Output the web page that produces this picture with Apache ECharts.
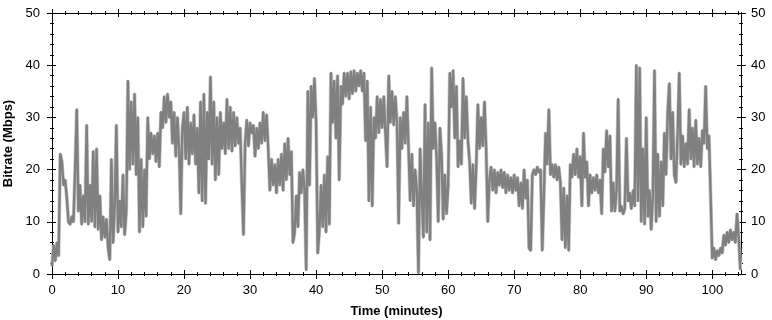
<!DOCTYPE html>
<html><head><meta charset="utf-8">
<script src="https://cdn.jsdelivr.net/npm/echarts@6/dist/echarts.min.js"></script>
<style>html,body{margin:0;padding:0;background:#fff}#c{width:772px;height:320px}</style>
</head><body><div id="c"></div>
<script>
// Sampling step of the bitrate trace (minutes between consecutive values)
const STEP = 0.25;
const X_MAX = 104.35;
// Bitrate (Mbps), one array per 10-minute block
const rate00 = [1.5,5.5,2.5,6,3.5, 23,21.5,17,18,14.5, 10,9.5,11,10,20, 31.5,12,17,9.5,15, 10,28.5,9.5,17,10, 23.5,9,24,8.5,15, 6.5,11,7,10.5,5, 2.7,22,6,13,28.5];
const rate10 = [8,14,9,19,7.5, 12,37,20,33,21, 34.5,19,30,8,22, 9,20,11,30,22, 27,23,26.5,21.5,27, 20.5,31,28,34,29, 34.5,30,33,25,31, 22.5,30,24,11.5,28];
const rate20 = [31,22,32,21,29, 23,30.5,21,28,15.5, 33,14,34.5,13.5,31, 22,37.8,21,33,18, 30,19,31,24,29, 23,33.5,24,32,23.5, 31,24.5,30,25,28, 17,7.5,25,29.5,24.5];
const rate30 = [29,27,28.5,22.5,28, 24,29,25,31,25.5, 30.5,24,16,22,17, 21,15.5,22,17,23, 16,25,18,26,19, 23.5,6,8,15,9, 19.5,15.5,20,16,0.8, 35,17,36,30,37.5];
const rate40 = [29,4,8.5,17,9, 19,8,22.5,9.5,38.5, 29,37,26,38,18, 36,32.5,38.5,34,38.5, 33.5,38.8,34.5,39,35, 38.5,36,39,35,38.5, 25.5,37,14,32,13, 30,26,34,27,33.5];
const rate50 = [28,34,27,20.5,38, 29,35,28.5,34,29, 9.7,30,24,31,25, 34,24,14,23,13, 20,16,0.2,24,15, 7,32.5,8,29,6.5, 39.5,24,29,22,10, 28,23,10.5,19,11.5];
const rate60 = [17,38.5,32,39,26, 36,20.5,25.5,21,37.5, 26,34,25.5,21.5,13.5, 21,12.5,20.5,32.5,24, 30,24.5,33,24,10, 18,20.5,16,20,15.5, 19.5,17,20,16.5,19.5, 15.5,19,16,18.5,15.5];
const rate70 = [19,16,18.5,13,17.5, 12.5,20,14.5,18,5, 4.5,19,20,19,20.5, 19.5,20,4.5,15,27, 21,31.5,19,21,18.5, 21,18,20.5,17.5,6.5, 16.5,5,15,4.5,21, 18.5,23,19,24,18.5];
const rate80 = [22.5,13,27,18.5,21.5, 13,19,15.5,18.5,16, 19,15.5,18,11.5,24, 19.5,27.5,20.5,26.5,12, 17.5,12,16,33.5,12, 13,11.5,12.5,26,14, 15.5,12.5,16,13,40, 14,39.5,10,24,9.5];
const rate90 = [30,11,16,8.5,15, 39,10,23,11,21.5, 13,27,19,31,36.5, 22,31,19,17.5,27, 38.5,21,26.5,20.5,25, 21,31.5,22,28,20.5, 29.5,21,26,20.5,27.5, 25,36,24,26.5,15];
const rate100 = [3,5,2.7,4.5,3.5, 5,4,7.5,5.5,8, 6,8.5,6.5,8,6, 11.5,7,0.8];

// Tick positions / labels
const xMajorTicks = [0,10,20,30,40,50,60,70,80,90,100];
const xMinorTicks = [2,4,6,8,12,14,16,18,22,24,26,28,32,34,36,38,42,44,46,48,52,54,56,58,62,64,66,68,72,74,76,78,82,84,86,88,92,94,96,98,102,104];
const yMajorTicks = [0,10,20,30,40,50];
const yMinorTicks = [2,4,6,8,12,14,16,18,22,24,26,28,32,34,36,38,42,44,46,48];

const allRates = [].concat(rate00, rate10, rate20, rate30, rate40, rate50, rate60, rate70, rate80, rate90, rate100);
const data = allRates.map((v, i) => [+(i * STEP).toFixed(2), v]);

const FONT = 'Liberation Sans, Arial, sans-serif';
function mkAxis(type, pos, inside, ticks, len, labelTicks, extra) {
  const isX = type === 'x';
  const ax = {
    type: 'value', position: pos,
    min: 0, max: isX ? X_MAX : 50,
    axisLine: { show: true, onZero: false, lineStyle: { color: '#000', width: 1 } },
    axisTick: { show: true, inside: inside, length: len, customValues: ticks, lineStyle: { color: '#000', width: 1 } },
    axisLabel: labelTicks ? { show: true, customValues: labelTicks, color: '#000', fontFamily: FONT, fontSize: 13, margin: isX ? 10 : (pos === 'left' ? 12 : 10) } : { show: false },
    splitLine: { show: false }, minorTick: { show: false }
  };
  return Object.assign(ax, extra || {});
}

const xAxes = [
  mkAxis('x', 'bottom', false, xMajorTicks, 5, xMajorTicks, {
    name: 'Time (minutes)', nameLocation: 'middle', nameGap: 31,
    nameTextStyle: { color: '#000', fontFamily: FONT, fontSize: 13, fontWeight: 'bold' }
  }),
  mkAxis('x', 'bottom', true, xMajorTicks, 4),
  mkAxis('x', 'bottom', false, xMinorTicks, 2),
  mkAxis('x', 'bottom', true, xMinorTicks, 2),
  mkAxis('x', 'top', false, xMajorTicks, 4),
  mkAxis('x', 'top', true, xMajorTicks, 4),
  mkAxis('x', 'top', false, xMinorTicks, 2),
  mkAxis('x', 'top', true, xMinorTicks, 2)
];
const yAxes = [
  mkAxis('y', 'left', false, yMajorTicks, 5, yMajorTicks, {
    name: 'Bitrate (Mbps)', nameLocation: 'middle', nameGap: 36,
    nameTextStyle: { color: '#000', fontFamily: FONT, fontSize: 13, fontWeight: 'bold' }
  }),
  mkAxis('y', 'left', true, yMajorTicks, 4),
  mkAxis('y', 'left', false, yMinorTicks, 2),
  mkAxis('y', 'left', true, yMinorTicks, 2),
  mkAxis('y', 'right', false, yMajorTicks, 5, yMajorTicks),
  mkAxis('y', 'right', true, yMajorTicks, 4),
  mkAxis('y', 'right', false, yMinorTicks, 2),
  mkAxis('y', 'right', true, yMinorTicks, 2)
];

const chart = echarts.init(document.getElementById('c'), null, { renderer: 'canvas' });
chart.setOption({
  animation: false,
  backgroundColor: '#fff',
  grid: { left: 52, right: 31, top: 13, bottom: 46, containLabel: false, outerBoundsMode: 'none' },
  xAxis: xAxes,
  yAxis: yAxes,
  series: [
    { type: 'line', data: data, showSymbol: false, silent: true, xAxisIndex: 0, yAxisIndex: 0,
      lineStyle: { color: '#cacaca', width: 3.8 }, z: 1 },
    { type: 'line', data: data, showSymbol: false, silent: true, xAxisIndex: 0, yAxisIndex: 0,
      lineStyle: { color: '#808080', width: 2.4, join: 'round' }, z: 2 }
  ]
});
</script>
</body></html>
